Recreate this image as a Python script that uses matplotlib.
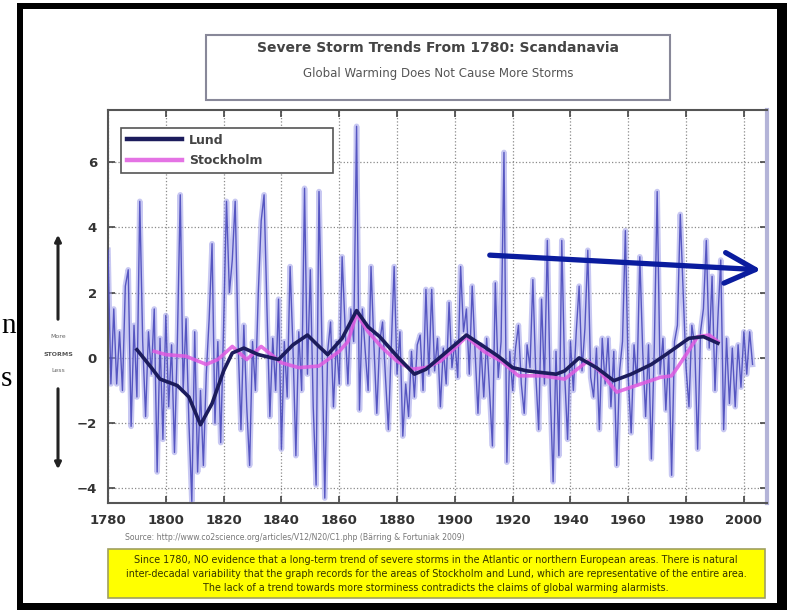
import matplotlib
matplotlib.use("Agg")
import matplotlib.pyplot as plt
from matplotlib.patches import Rectangle, FancyArrowPatch

# ---------------- data ----------------
raw_start_year = 1780
raw_values = [
    3.3, -0.8, 1.5, -0.8, 0.8, -1.0, 2.2, 2.7, -2.1, 1.0,      # 1780s
    -1.2, 4.8, 0.5, -1.8, 0.8, -0.5, 1.5, -3.5, 0.6, -2.5,     # 1790s
    1.3, -1.5, 0.4, -2.9, 0.5, 5.0, -1.0, 1.2, -2.0, -4.4,     # 1800s
    0.8, -3.5, -1.0, -3.3, -0.5, 1.2, 3.5, -2.0, 0.5, -2.6,    # 1810s
    1.0, 4.8, 2.0, 3.0, 4.8, 0.5, -2.2, 1.0, -1.5, -3.3,       # 1820s
    0.5, -1.0, 2.0, 4.2, 5.0, 1.5, -1.8, 0.6, -1.0, 1.8,       # 1830s
    -2.8, 0.5, -1.2, 2.8, 0.3, -3.0, 0.8, -1.0, 5.2, -0.5,     # 1840s
    2.7, -1.5, -3.9, 5.1, 0.5, -4.3, 0.2, 1.1, -1.5, 0.5,      # 1850s
    -0.8, 3.1, 1.0, -0.8, 1.5, 0.5, 7.1, -1.6, 1.5, 0.2,       # 1860s
    -1.0, 2.8, 0.4, -1.7, 0.5, 1.1, -0.6, -2.2, 0.3, 2.8,      # 1870s
    -0.5, 0.8, -2.4, -0.8, -1.8, 0.2, -1.2, 0.4, 0.7, -1.0,    # 1880s
    2.1, -0.5, 2.1, -0.4, 0.6, -1.5, 0.3, -0.8, 1.7, -0.3,     # 1890s
    0.5, -0.6, 2.8, 0.8, 1.5, -0.5, 2.2, 0.2, -1.7, 0.4,       # 1900s
    -1.2, 0.6, -1.0, -2.7, 2.3, -0.6, 0.5, 6.3, -3.2, 0.2,     # 1910s
    -1.0, 0.3, 1.0, -0.8, -1.7, 0.4, -0.3, 2.4, -0.5, -2.2,    # 1920s
    1.8, -0.8, 3.6, -1.0, -3.8, 0.2, -3.0, 3.6, -0.5, -2.5,    # 1930s
    0.5, -1.0, 0.8, 2.2, -0.4, 0.9, 3.3, -0.6, -1.2, 0.3,      # 1940s
    -2.2, 0.6, -0.8, 0.6, -1.5, 0.2, -3.3, -0.4, 0.5, 3.9,     # 1950s
    -0.6, -2.3, 0.4, -0.8, 3.1, 0.2, -1.8, 0.4, -3.1, 0.3,     # 1960s
    5.1, -0.5, 0.6, -1.6, 0.2, -3.6, 0.5, 1.0, 4.4, 2.0,       # 1970s
    -0.3, -1.5, 1.0, 0.4, -2.8, 0.8, 1.5, 3.6, 0.3, 2.5,       # 1980s
    -1.0, 1.2, 3.0, -2.2, 0.6, -1.4, 0.3, -1.5, 0.4, -0.9,     # 1990s
    0.8, -0.5, 0.8, -0.2,                                      # 2000s
]
raw_years = list(range(raw_start_year, raw_start_year + len(raw_values)))

lund_years = [1790, 1795, 1798, 1804, 1808, 1812, 1816, 1820, 1823, 1827,
              1832, 1839, 1844, 1849, 1853, 1856, 1861, 1866, 1870, 1874,
              1880, 1886, 1890, 1896, 1900, 1904, 1910, 1915, 1920, 1925,
              1930, 1935, 1938, 1943, 1949, 1955, 1961, 1968, 1973, 1977,
              1981, 1986, 1991]
lund_values = [0.25, -0.3, -0.65, -0.85, -1.2, -2.05, -1.4, -0.4, 0.15, 0.3,
               0.1, -0.05, 0.4, 0.7, 0.35, 0.1, 0.6, 1.45, 0.95, 0.65,
               0.05, -0.5, -0.35, 0.1, 0.4, 0.7, 0.35, 0.05, -0.3, -0.4,
               -0.45, -0.5, -0.4, 0.0, -0.3, -0.7, -0.5, -0.2, 0.1, 0.35,
               0.6, 0.65, 0.45]

stock_years = [1796, 1800, 1807, 1814, 1818, 1823, 1828, 1833, 1840, 1846,
               1853, 1860, 1863, 1866, 1870, 1875, 1880, 1885, 1890, 1895,
               1900, 1904, 1910, 1916, 1922, 1930, 1938, 1943, 1946, 1950,
               1956, 1961, 1966, 1971, 1975, 1977, 1980, 1984, 1988, 1991]
stock_values = [0.2, 0.1, 0.05, -0.2, -0.05, 0.35, -0.05, 0.35, -0.15, -0.3,
                -0.25, 0.2, 0.5, 1.35, 0.8, 0.3, -0.1, -0.35, -0.3, -0.1,
                0.3, 0.65, 0.2, -0.1, -0.55, -0.55, -0.65, -0.3, -0.1, -0.4,
                -1.05, -0.9, -0.75, -0.6, -0.55, -0.3, 0.1, 0.65, 0.7, 0.5]

x_ticks = [1780, 1800, 1820, 1840, 1860, 1880, 1900, 1920, 1940, 1960, 1980, 2000]
y_ticks = [-4, -2, 0, 2, 4, 6]

title_text = "Severe Storm Trends From 1780: Scandanavia"
subtitle_text = "Global Warming Does Not Cause More Storms"
source_text = "Source: http://www.co2science.org/articles/V12/N20/C1.php (Bärring & Fortuniak 2009)"
note_text = ("Since 1780, NO evidence that a long-term trend of severe storms in the Atlantic or northern European areas. There is natural\n"
             "inter-decadal variability that the graph records for the areas of Stockholm and Lund, which are representative of the entire area.\n"
             "The lack of a trend towards more storminess contradicts the claims of global warming alarmists.")

# ---------------- figure ----------------
W, H = 787, 610
fig = plt.figure(figsize=(W / 100, H / 100), dpi=100)
fig.patch.set_facecolor("white")


def fx(x):
    return x / W


def fy(y):
    return 1 - y / H


ax = fig.add_axes([fx(108), fy(503), fx(767) - fx(108), fy(110) - fy(503)])

# raw annual series (blurred look: wide light layer + darker core)
ax.plot(raw_years, raw_values, color="#9c9ce8", lw=4.0, alpha=0.55, zorder=2)
ax.plot(raw_years, raw_values, color="#4a4abc", lw=1.0, alpha=0.9, zorder=3)

ax.plot(lund_years, lund_values, color="#1c1c5c", lw=2.6, zorder=5, label="Lund")
ax.plot(stock_years, stock_values, color="#e05ae0", lw=2.6, alpha=0.85, zorder=4,
        label="Stockholm")

ax.set_xlim(1780, 2008)
ax.set_ylim(-4.45, 7.6)
ax.set_xticks(x_ticks)
ax.set_yticks(y_ticks)
ax.tick_params(direction="in", top=True, right=True, length=5, width=1.2,
               colors="#444444", labelsize=9.5, pad=8)
for lab in ax.get_xticklabels() + ax.get_yticklabels():
    lab.set_fontweight("bold")
    lab.set_color("#333333")
ax.grid(True, ls=":", color="#8a8a8a", lw=0.9)
for s in ["left", "top", "bottom"]:
    ax.spines[s].set_color("#555555")
    ax.spines[s].set_linewidth(1.5)
ax.spines["right"].set_color("#b4b4d8")
ax.spines["right"].set_linewidth(3)

leg = ax.legend(loc="upper left", bbox_to_anchor=(0.0106, 0.835, 0.341, 0.1345),
                mode="expand", fontsize=9.5, frameon=True, fancybox=False,
                edgecolor="#555555", framealpha=1, handlelength=4.4,
                handletextpad=0.6, borderpad=0.45, labelspacing=0.6,
                prop={"weight": "bold", "size": 9})
leg.get_frame().set_linewidth(1.2)
for t in leg.get_texts():
    t.set_color("#444444")
for lh in leg.get_lines():
    lh.set_linewidth(3.2)

# title box
fig.add_artist(Rectangle((fx(206), fy(100)), fx(670) - fx(206), fy(35) - fy(100),
                         transform=fig.transFigure, facecolor="white",
                         edgecolor="#888899", lw=1.5, zorder=1))
fig.text(fx(438), fy(48), title_text, ha="center", va="center", fontsize=10,
         fontweight="bold", color="#444444")
fig.text(fx(438), fy(74), subtitle_text, ha="center", va="center", fontsize=8.5,
         color="#555555")

# y "label": arrows + text
ax_col = "#222222"
fig.add_artist(FancyArrowPatch(
    (fx(58), fy(322)), (fx(58), fy(232)), transform=fig.transFigure,
    arrowstyle="-|>", mutation_scale=9, lw=2.2, color=ax_col))
fig.add_artist(FancyArrowPatch(
    (fx(58), fy(386)), (fx(58), fy(472)), transform=fig.transFigure,
    arrowstyle="-|>", mutation_scale=9, lw=2.2, color=ax_col))
fig.text(fx(58), fy(337), "More", ha="center", va="center", fontsize=4.5, color="#666666")
fig.text(fx(58), fy(354), "STORMS", ha="center", va="center", fontsize=4.5,
         color="#555555", fontweight="bold")
fig.text(fx(58), fy(371), "Less", ha="center", va="center", fontsize=4.5, color="#666666")

# blue trend arrow
fig.add_artist(FancyArrowPatch(
    (fx(487), fy(255)), (fx(764), fy(270)), transform=fig.transFigure,
    arrowstyle="->,head_length=1.0,head_width=0.5", mutation_scale=22,
    lw=3.8, color="#0a1c9e", zorder=10))

# source + note
fig.text(fx(125), fy(537), source_text, ha="left", va="center", fontsize=5.6,
         color="#777777")
fig.add_artist(Rectangle((fx(108), fy(598)), fx(765) - fx(108), fy(549) - fy(598),
                         transform=fig.transFigure, facecolor="#ffff00",
                         edgecolor="#a0a060", lw=1.2))
fig.text(fx(436), fy(574), note_text, ha="center", va="center", fontsize=6.9,
         color="#333300", linespacing=1.45)

# slide fragment text at far left
fig.text(fx(1), fy(333), "n", ha="left", va="baseline", fontsize=21,
         family="Liberation Serif", color="black")
fig.text(fx(1), fy(386), "s", ha="left", va="baseline", fontsize=21,
         family="Liberation Serif", color="black")

# black frame
frame = [
    (17, 3, 787, 9),     # top
    (17, 3, 23, 610),    # left
    (777, 3, 787, 610),  # right
    (17, 603, 787, 610), # bottom
]
for x0, y0, x1, y1 in frame:
    fig.add_artist(Rectangle((fx(x0), fy(y1)), fx(x1) - fx(x0), fy(y0) - fy(y1),
                             transform=fig.transFigure, facecolor="black",
                             edgecolor="none", zorder=20))

fig.savefig("out.png", dpi=100)
